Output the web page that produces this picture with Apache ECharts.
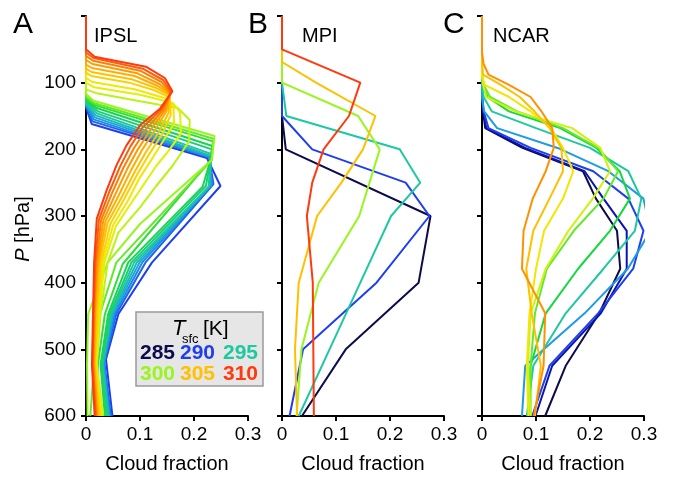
<!DOCTYPE html>
<html><head><meta charset="utf-8">
<script src="https://cdn.jsdelivr.net/npm/echarts@6/dist/echarts.min.js"></script>
<style>html,body{margin:0;padding:0;background:#fff}#c{width:673px;height:479px}</style>
</head><body><div id="c"></div>
<script>
// ---------------- DATA ----------------
const panelLetters = ['A', 'B', 'C'];
const modelNames = ['IPSL', 'MPI', 'NCAR'];
const xTicks = [0, 0.1, 0.2, 0.3];
const yTicks = [0, 100, 200, 300, 400, 500, 600];
const legendTemps = [285, 290, 295, 300, 305, 310];

// IPSL: each profile is a list of [cloud fraction, pressure hPa]
const ipslTemps = [290, 291, 292, 293, 294, 295, 296, 297, 298, 299, 300,
                   301, 302, 303, 304, 305, 306, 307, 308, 309, 310];
const ipslProfiles = [
  [[0,0],[0,137],[0.0105,162],[0.224,213],[0.249,255],[0.122,370],[0.06,447],[0.037,515],[0.049,600]],
  [[0,0],[0,135],[0.012,158],[0.228,212],[0.236,252],[0.11,370],[0.056,447],[0.034,520],[0.046,600]],
  [[0,0],[0,134],[0.014,155],[0.229,212],[0.233,253],[0.104,370],[0.053,447],[0.033,521],[0.044,600]],
  [[0,0],[0,133],[0.016,152],[0.23,211],[0.231,254],[0.099,370],[0.05,447],[0.032,522],[0.043,600]],
  [[0,0],[0,132],[0.018,149],[0.231,210],[0.229,255],[0.094,370],[0.048,447],[0.031,522],[0.042,600]],
  [[0,0],[0,131],[0.02,146],[0.232,207],[0.227,256],[0.089,370],[0.046,447],[0.03,523],[0.04,600]],
  [[0,0],[0,129],[0.022,143],[0.233,200],[0.231,215],[0.222,255],[0.084,370],[0.044,447],[0.029,523],[0.038,600]],
  [[0,0],[0,127],[0.02,138],[0.234,195],[0.231,215],[0.216,256],[0.078,370],[0.041,447],[0.027,523],[0.035,600]],
  [[0,0],[0,124],[0.018,134],[0.235,188],[0.232,215],[0.068,372],[0.035,447],[0.022,523],[0.02,600]],
  [[0,0],[0,121],[0.016,131],[0.236,184],[0.233,216],[0.056,370],[0.026,447],[0.015,523],[0.008,600]],
  [[0,0],[0,117],[0.014,127],[0.238,180],[0.233,216],[0.1,312],[0.04,370],[0.004,447],[0.002,523],[0.003,600]],
  [[0,0],[0,110],[0.02,116],[0.1,128],[0.17,138],[0.192,156],[0.191,188],[0.16,225],[0.13,255],[0.1,287],[0.06,325],[0.04,370],[0.027,447],[0.02,523],[0.032,600]],
  [[0,0],[0,100],[0.015,107],[0.1,118],[0.16,130],[0.174,144],[0.176,176],[0.155,200],[0.13,225],[0.105,255],[0.08,285],[0.055,316],[0.034,370],[0.025,447],[0.019,523],[0.03,600]],
  [[0,0],[0,93],[0.012,99],[0.09,110],[0.15,124],[0.162,136],[0.163,162],[0.145,185],[0.124,212],[0.1,242],[0.077,278],[0.05,314],[0.031,370],[0.023,447],[0.018,523],[0.028,600]],
  [[0,0],[0,85],[0.01,90],[0.08,100],[0.125,111],[0.155,122],[0.157,148],[0.142,176],[0.118,206],[0.096,236],[0.071,274],[0.045,312],[0.028,370],[0.021,447],[0.017,523],[0.026,600]],
  [[0,0],[0,79],[0.01,84],[0.085,95],[0.13,108],[0.155,119],[0.153,145],[0.135,174],[0.111,204],[0.09,234],[0.066,272],[0.04,310],[0.025,370],[0.019,447],[0.016,523],[0.024,600]],
  [[0,0],[0,73],[0.011,78],[0.09,90],[0.133,105],[0.155,117],[0.149,143],[0.127,172],[0.103,202],[0.083,232],[0.06,270],[0.036,308],[0.023,370],[0.017,447],[0.015,523],[0.022,600]],
  [[0,0],[0,66],[0.012,72],[0.095,86],[0.136,102],[0.156,116],[0.146,142],[0.12,170],[0.096,200],[0.076,230],[0.054,268],[0.032,307],[0.021,370],[0.016,447],[0.014,523],[0.021,600]],
  [[0,0],[0,60],[0.013,67],[0.1,82],[0.14,99],[0.157,115],[0.143,141],[0.113,168],[0.089,198],[0.069,228],[0.048,266],[0.028,306],[0.019,370],[0.015,447],[0.013,523],[0.019,600]],
  [[0,0],[0,55],[0.014,63],[0.105,79],[0.143,96],[0.158,114],[0.14,140],[0.106,166],[0.082,196],[0.063,226],[0.043,264],[0.024,305],[0.017,370],[0.014,447],[0.012,523],[0.018,600]],
  [[0,0],[0,50],[0.016,61],[0.111,76],[0.146,93],[0.16,113],[0.137,139],[0.1,164],[0.075,194],[0.057,223],[0.038,262],[0.02,304],[0.015,370],[0.013,447],[0.011,523],[0.016,600]]
];

// MPI: each profile is a list of [cloud fraction, pressure hPa]
const mpiTemps = [285, 290, 295, 300, 305, 310];
const mpiProfiles = [
  [[0,0],[0,150],[0.007,200],[0.275,300],[0.253,400],[0.118,500],[0.037,600]],
  [[0,0],[0,150],[0.056,200],[0.229,250],[0.273,300],[0.175,400],[0.039,500],[0.014,600]],
  [[0,0],[0,100],[0.008,150],[0.218,200],[0.256,250],[0.202,300],[0.145,400],[0.088,500],[0.031,600]],
  [[0,0],[0,100],[0.141,150],[0.181,200],[0.143,300],[0.068,400],[0.036,500],[0.027,600]],
  [[0,0],[0,69],[0.063,100],[0.173,150],[0.15,200],[0.11,250],[0.065,300],[0.031,400],[0.024,500],[0.028,600]],
  [[0,0],[0,50],[0.145,100],[0.124,150],[0.077,200],[0.056,250],[0.046,300],[0.057,400],[0.059,600]]
];

// NCAR: model levels (hPa) and cloud fraction per level for each surface temperature
const ncarLevels = [0, 54.6, 72.0, 87.8, 103.3, 121.5, 143.0, 168.2, 197.9, 232.8, 273.9, 322.2, 379.1, 446.0, 524.7, 600];
const ncarTemps = [285, 287.5, 290, 292.5, 295, 297.5, 299, 301.5, 303, 305, 307.5];
const ncarProfiles = [
  [0,0,0,0,0,0,0.002,0.006,0.075,0.187,0.211,0.25,0.256,0.217,0.155,0.117],
  [0,0,0,0,0,0,0.002,0.008,0.08,0.19,0.225,0.268,0.268,0.22,0.13,0.099],
  [0,0,0,0,0,0,0.003,0.012,0.09,0.206,0.271,0.299,0.28,0.215,0.125,0.093],
  [0,0,0,0,0,0,0.004,0.028,0.14,0.234,0.299,0.312,0.27,0.19,0.08,0.074],
  [0,0,0,0,0,0.003,0.018,0.1,0.2,0.271,0.295,0.283,0.225,0.155,0.095,0.083],
  [0,0,0,0,0.002,0.01,0.05,0.145,0.212,0.255,0.274,0.237,0.178,0.118,0.09,0.086],
  [0,0,0,0,0.003,0.015,0.065,0.15,0.215,0.252,0.225,0.17,0.12,0.098,0.09,0.09],
  [0,0,0,0,0.002,0.008,0.062,0.167,0.219,0.237,0.205,0.16,0.118,0.09,0.085,0.09],
  [0,0,0,0,0.005,0.05,0.09,0.128,0.15,0.169,0.15,0.115,0.1,0.088,0.083,0.086],
  [0,0,0,0.002,0.035,0.07,0.097,0.125,0.147,0.15,0.125,0.095,0.082,0.092,0.109,0.098],
  [0,0,0.003,0.012,0.05,0.09,0.11,0.13,0.133,0.118,0.094,0.077,0.074,0.117,0.114,0.096]
];

// ---------------- STYLE ----------------
const FONT = "'Liberation Sans', Arial, Helvetica, sans-serif";
const cmapStops = [[285,'#0b0b4d'],[287.5,'#0a14b0'],[290,'#1f3fef'],[292.5,'#1e9be6'],[295,'#1ec8a0'],
  [297.5,'#14d83c'],[300,'#99f51e'],[302.5,'#f0f000'],[305,'#ffc000'],[307.5,'#ff9000'],[310,'#ff3a0e']];
function hex2rgb(h){return [1,3,5].map(i=>parseInt(h.substr(i,2),16));}
function tempColor(t){
  if (t <= cmapStops[0][0]) return cmapStops[0][1];
  for (let i=1;i<cmapStops.length;i++){
    const [t1,c1]=cmapStops[i-1],[t2,c2]=cmapStops[i];
    if (t<=t2){
      const f=(t-t1)/(t2-t1), a=hex2rgb(c1), b=hex2rgb(c2);
      return 'rgb('+a.map((v,k)=>Math.round(v+(b[k]-v)*f)).join(',')+')';
    }
  }
  return cmapStops[cmapStops.length-1][1];
}

const gridLefts = [86, 282, 482];
const grids = gridLefts.map(l => ({left:l, top:16, width:162, height:406}));

const axisLine = {show:true, onZero:false, lineStyle:{color:'#000', width:2}};
const axisTick = {show:true, inside:false, length:5, lineStyle:{color:'#000', width:2}};

const xAxes = gridLefts.map((l,i)=>({
  gridIndex:i, type:'value', min:xTicks[0], max:xTicks[xTicks.length-1], interval:0.1,
  axisLine, axisTick, splitLine:{show:false},
  axisLabel:{fontSize:19, color:'#000', margin:9, fontFamily:FONT,
    formatter:v=>String(Math.round(v*10)/10)},
  name:'Cloud fraction', nameLocation:'middle', nameGap:38,
  nameTextStyle:{fontSize:20, color:'#000', fontFamily:FONT}
}));
const yAxes = gridLefts.map((l,i)=>({
  gridIndex:i, type:'value', inverse:true, min:yTicks[0], max:yTicks[yTicks.length-1], interval:100,
  axisLine, axisTick, splitLine:{show:false},
  axisLabel:{show:i===0, fontSize:19, color:'#000', margin:10, fontFamily:FONT,
    formatter:v=> v===0 ? '' : String(v)}
}));

function lineSeries(idx, data, temp){
  return {type:'line', xAxisIndex:idx, yAxisIndex:idx, data, symbol:'none', showSymbol:false,
    silent:true, animation:false, clip:false, lineStyle:{width:2, color:tempColor(temp)}};
}
const series = [];
ipslProfiles.forEach((p,i)=>series.push(lineSeries(0, p, ipslTemps[i])));
mpiProfiles.forEach((p,i)=>series.push(lineSeries(1, p, mpiTemps[i])));
ncarProfiles.forEach((vals,i)=>series.push(lineSeries(2, vals.map((v,k)=>[v, ncarLevels[k]]), ncarTemps[i])));

// ---------------- GRAPHIC TEXT ----------------
const letterX = [13, 248, 443];
const titleX = [94, 302, 493];
const graphic = [];
panelLetters.forEach((t,i)=>graphic.push({type:'text', left:letterX[i], top:10,
  style:{text:t, fontSize:30, fontFamily:FONT, fill:'#000'}}));
modelNames.forEach((t,i)=>graphic.push({type:'text', x:titleX[i], y:36,
  style:{text:t, fontSize:20, fontFamily:FONT, fill:'#000', align:'left', verticalAlign:'middle'}}));
// y-axis name
graphic.push({type:'text', x:23, y:229, rotation:Math.PI/2,
  style:{text:'{i|P} [hPa]', fontSize:20, fontFamily:FONT, fill:'#000', align:'center', verticalAlign:'middle',
    rich:{i:{fontStyle:'italic', fontSize:20, fontFamily:FONT, fill:'#000'}}}});
// legend box
graphic.push({type:'rect', shape:{x:136, y:312, width:127, height:74},
  style:{fill:'#e6e6e6', stroke:'#9a9a9a', lineWidth:1.5}});
graphic.push({type:'text', x:172, y:329, style:{text:'T', fontSize:22, fontStyle:'italic', fontFamily:FONT, fill:'#000', align:'left', verticalAlign:'middle'}});
graphic.push({type:'text', x:182, y:339, style:{text:'sfc', fontSize:13, fontFamily:FONT, fill:'#000', align:'left', verticalAlign:'middle'}});
graphic.push({type:'text', x:203, y:329, style:{text:'[K]', fontSize:21, fontFamily:FONT, fill:'#000', align:'left', verticalAlign:'middle'}});
const legX = [140, 180, 223];
legendTemps.forEach((t,i)=>{
  const row = Math.floor(i/3), col = i%3;
  graphic.push({type:'text', x:legX[col], y: row===0 ? 353.5 : 374.5,
    style:{text:String(t), fontSize:21, fontWeight:'bold', fontFamily:FONT, fill:tempColor(t), align:'left', verticalAlign:'middle'}});
});

const chart = echarts.init(document.getElementById('c'), null, {renderer:'canvas'});
chart.setOption({
  animation:false, backgroundColor:'#fff',
  grid:grids, xAxis:xAxes, yAxis:yAxes, series, graphic
});
</script>
</body></html>
